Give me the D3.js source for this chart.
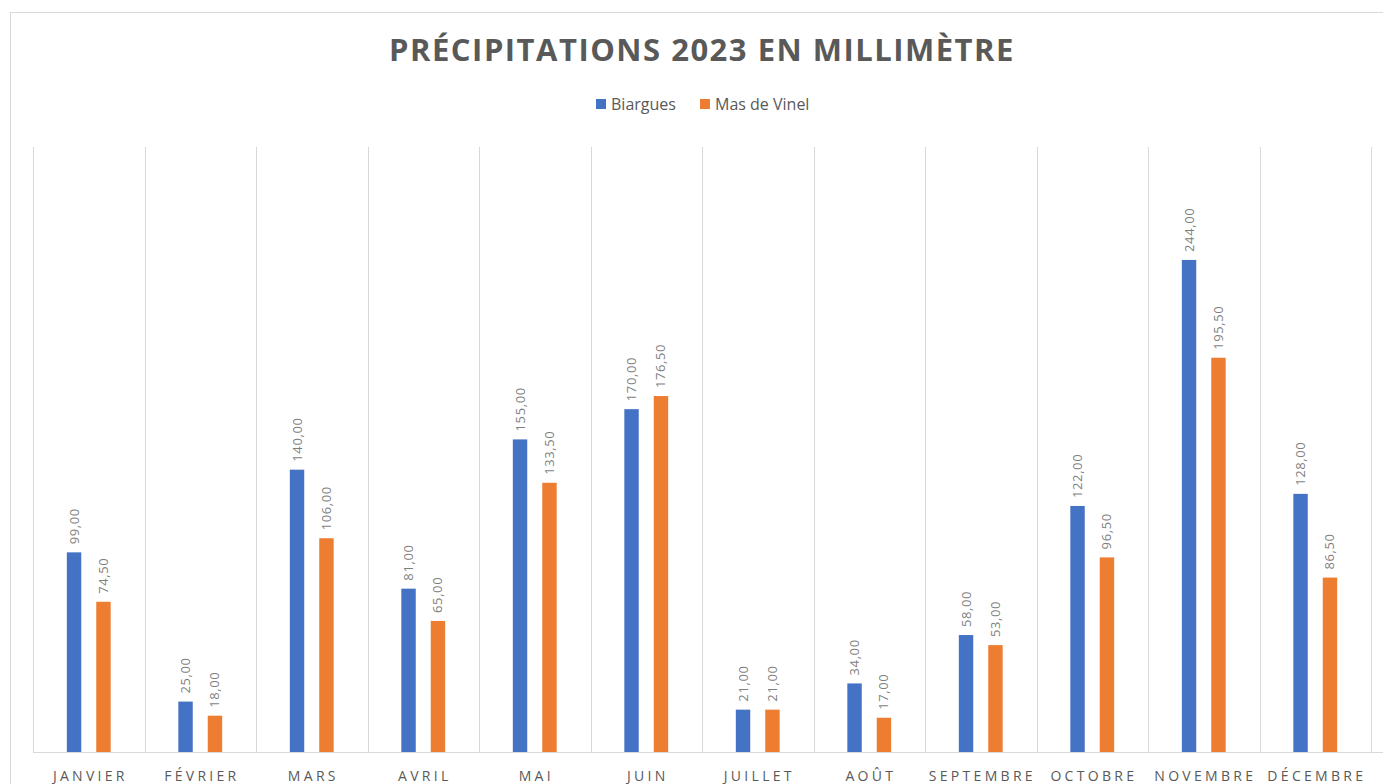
<!DOCTYPE html>
<html>
<head>
<meta charset="utf-8">
<script src="https://cdn.jsdelivr.net/npm/d3@7"></script>
<style>
  body { margin: 0; background: #fff; }
  text { font-family: "Open Sans", sans-serif; }
</style>
</head>
<body>
<div id="chart"></div>
<script>
const months = ["JANVIER", "FÉVRIER", "MARS", "AVRIL", "MAI", "JUIN", "JUILLET", "AOÛT", "SEPTEMBRE", "OCTOBRE", "NOVEMBRE", "DÉCEMBRE"];
const biargues = [99, 25, 140, 81, 155, 170, 21, 34, 58, 122, 244, 128];
const masDeVinel = [74.5, 18, 106, 65, 133.5, 176.5, 21, 17, 53, 96.5, 195.5, 86.5];
const seriesNames = ["Biargues", "Mas de Vinel"];
const colors = ["#4472c4", "#ed7d31"];

function drawRainChart(containerId) {
  const W = 1383, H = 784;
  const margin = { top: 147, right: 12, bottom: 32, left: 33 };
  const width = 1371 - margin.left,
        height = H - margin.top - margin.bottom;

  const root = d3.select(`#${containerId}`)
    .append("svg")
      .attr("width", W)
      .attr("height", H);

  // chart area border
  root.append("rect")
    .attr("x", 10.5).attr("y", 12.5)
    .attr("width", W + 10).attr("height", H + 10)
    .attr("fill", "none")
    .attr("stroke", "#d9d9d9");

  root.append("text")
    .attr("x", 702).attr("y", 61)
    .attr("text-anchor", "middle")
    .style("font-size", "31px")
    .style("font-weight", "bold")
    .style("letter-spacing", "1.5px")
    .style("fill", "#595959")
    .text("PRÉCIPITATIONS 2023 EN MILLIMÈTRE");

  // legend
  const legend = root.append("g").attr("transform", "translate(596,104)");
  const legendX = [0, 104];
  seriesNames.forEach((name, i) => {
    const g = legend.append("g").attr("transform", `translate(${legendX[i]},0)`);
    g.append("rect").attr("x", 0).attr("y", -5).attr("width", 10).attr("height", 10).attr("fill", colors[i]);
    g.append("text").attr("x", 15).attr("y", 5.5)
      .style("font-size", "16px").style("fill", "#595959").text(name);
  });

  const svg = root.append("g")
    .attr("transform", `translate(${margin.left},${margin.top})`);

  const x = d3.scaleBand().domain(months).range([0, width]);
  const y = d3.scaleLinear().domain([0, 300]).range([height, 0]);
  const xs = d3.scaleBand().domain(seriesNames).range([0, x.bandwidth()]).paddingInner(0.51).paddingOuter(1.15);

  // vertical grid between categories
  svg.append("g")
    .selectAll("line")
    .data(d3.range(months.length + 1))
    .join("line")
      .attr("x1", i => Math.round(i * x.step()) + 0.5)
      .attr("x2", i => Math.round(i * x.step()) + 0.5)
      .attr("y1", 0)
      .attr("y2", height)
      .attr("stroke", "#d9d9d9");

  svg.append("line")
    .attr("x1", 0).attr("x2", W).attr("y1", height + 0.5).attr("y2", height + 0.5)
    .attr("stroke", "#d9d9d9");

  const data = months.map((m, i) => ({ month: m, values: [biargues[i], masDeVinel[i]] }));

  const groups = svg.append("g")
    .selectAll("g")
    .data(data)
    .join("g")
      .attr("transform", d => `translate(${x(d.month)},0)`);

  groups.selectAll("rect")
    .data(d => d.values.map((v, i) => ({ key: seriesNames[i], value: v, i })))
    .join("rect")
      .attr("x", d => xs(d.key))
      .attr("y", d => y(d.value))
      .attr("width", xs.bandwidth())
      .attr("height", d => height - y(d.value))
      .attr("fill", d => colors[d.i]);

  groups.selectAll("text.val")
    .data(d => d.values.map((v, i) => ({ key: seriesNames[i], value: v })))
    .join("text")
      .attr("class", "val")
      .attr("transform", d => `translate(${xs(d.key) + xs.bandwidth() / 2 + 4.5},${y(d.value) - 8}) rotate(-90)`)
      .style("font-size", "13px")
      .style("letter-spacing", "0.6px")
      .style("fill", "#7f7f7f")
      .text(d => d.value.toFixed(2).replace(".", ","));

  // category labels
  svg.append("g")
    .selectAll("text")
    .data(months)
    .join("text")
      .attr("x", d => x(d) + x.bandwidth() / 2 + 1.6)
      .attr("y", height + 29)
      .attr("text-anchor", "middle")
      .style("font-size", "14px")
      .style("letter-spacing", "3.3px")
      .style("fill", "#595959")
      .text(d => d);
}

document.addEventListener("DOMContentLoaded", function () {
  drawRainChart("chart");
});
</script>
</body>
</html>
